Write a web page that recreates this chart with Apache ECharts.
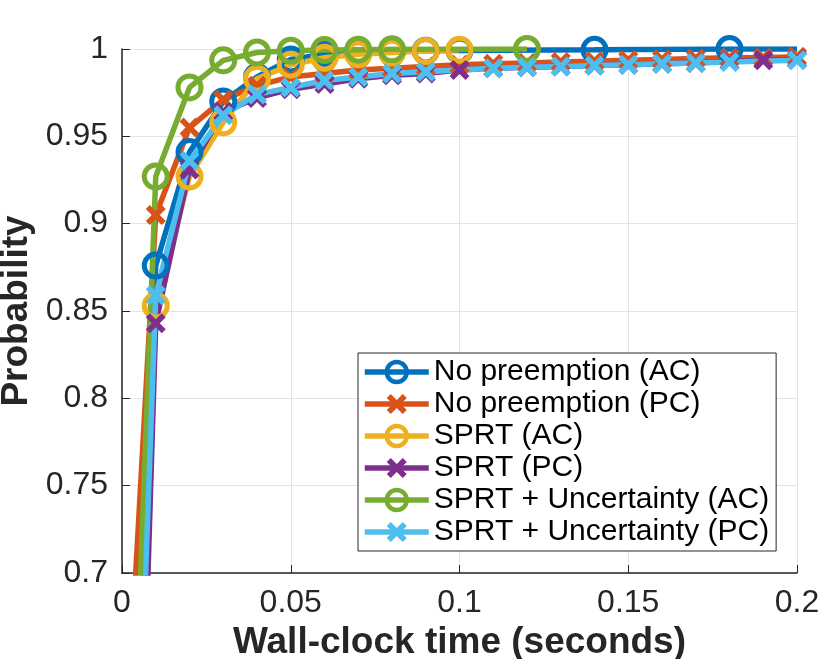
<!DOCTYPE html>
<html>
<head>
<meta charset="utf-8">
<script src="https://cdn.jsdelivr.net/npm/echarts@6/dist/echarts.min.js"></script>
<style>
  html, body { margin: 0; padding: 0; background: #fff; }
  #main { width: 830px; height: 659px; }
</style>
</head>
<body>
<div id="main"></div>
<script>
// values
var seriesNames = [
  "No preemption (AC)",
  "No preemption (PC)",
  "SPRT (AC)",
  "SPRT (PC)",
  "SPRT + Uncertainty (AC)",
  "SPRT + Uncertainty (PC)"
];

var noPreAcX = [0, 0.01, 0.02, 0.03, 0.04, 0.05, 0.06, 0.07, 0.08, 0.09, 0.1, 0.14, 0.18, 0.2];
var noPreAcY = [0.35, 0.876, 0.941, 0.970, 0.984, 0.994, 0.997, 0.998, 0.9985, 0.999, 0.9992, 0.9995, 1.0, 1.0];

var noPrePcX = [0, 0.01, 0.02, 0.03, 0.04, 0.05, 0.06, 0.07, 0.08, 0.09, 0.1, 0.11, 0.12, 0.13, 0.14, 0.15, 0.16, 0.17, 0.18, 0.19, 0.2];
var noPrePcY = [0.56, 0.905, 0.955, 0.971, 0.979, 0.984, 0.986, 0.988, 0.989, 0.990, 0.991, 0.9915, 0.992, 0.9925, 0.993, 0.9935, 0.994, 0.9945, 0.995, 0.995, 0.9955];

var sprtAcX = [0, 0.01, 0.02, 0.03, 0.04, 0.05, 0.06, 0.07, 0.08, 0.09, 0.1];
var sprtAcY = [0.25, 0.853, 0.927, 0.958, 0.983, 0.991, 0.995, 0.997, 0.998, 0.9988, 0.9995];

var sprtPcX = [0, 0.01, 0.02, 0.03, 0.04, 0.05, 0.06, 0.07, 0.08, 0.09, 0.1, 0.11, 0.12, 0.13, 0.14, 0.15, 0.16, 0.17, 0.18, 0.19, 0.2];
var sprtPcY = [0.22, 0.843, 0.931, 0.964, 0.972, 0.977, 0.980, 0.983, 0.985, 0.986, 0.988, 0.989, 0.9895, 0.990, 0.9905, 0.991, 0.9915, 0.992, 0.993, 0.9935, 0.994];

var uncAcX = [0, 0.01, 0.02, 0.03, 0.04, 0.05, 0.06, 0.07, 0.08, 0.12];
var uncAcY = [0.42, 0.927, 0.978, 0.9935, 0.998, 0.999, 0.9994, 0.9996, 0.9998, 1.0];

var uncPcX = [0, 0.01, 0.02, 0.03, 0.04, 0.05, 0.06, 0.07, 0.08, 0.09, 0.11, 0.12, 0.13, 0.14, 0.15, 0.16, 0.17, 0.18, 0.2];
var uncPcY = [0.33, 0.859, 0.936, 0.962, 0.974, 0.978, 0.982, 0.984, 0.986, 0.987, 0.989, 0.9895, 0.990, 0.9905, 0.991, 0.9915, 0.992, 0.9925, 0.9935];

var xTicks = [0, 0.05, 0.1, 0.15, 0.2];
var yTicks = [0.7, 0.75, 0.8, 0.85, 0.9, 0.95, 1];

// MATLAB default line colours
var colors = ["#0072BD", "#D95319", "#EDB120", "#7E2F8E", "#77AC30", "#4DBEEE"];
var circleSeries = [true, false, true, false, true, false];

var xMark = "path://M0,4L4,0L10,6L16,0L20,4L14,10L20,16L16,20L10,14L4,20L0,16L6,10Z";
var font = "Liberation Sans";
var ink = "#262626";
var lineW = 5.5;

function pairs(xs, ys, lastBare) {
  return xs.map(function (x, i) {
    if (lastBare && i === xs.length - 1) {
      return { value: [x, ys[i]], symbol: "none" };
    }
    return [x, ys[i]];
  });
}

function makeSeries(i, xs, ys, lastBare) {
  var c = colors[i];
  var isCircle = circleSeries[i];
  return {
    name: seriesNames[i],
    type: "line",
    data: pairs(xs, ys, lastBare),
    symbol: isCircle ? "circle" : xMark,
    symbolSize: isCircle ? 23 : 20,
    showAllSymbol: true,
    clip: true,
    lineStyle: { color: c, width: lineW },
    itemStyle: isCircle
      ? { color: "rgba(255,255,255,0)", borderColor: c, borderWidth: 5 }
      : { color: c, borderWidth: 0 },
    emphasis: { disabled: true },
    animation: false
  };
}

var legendData = seriesNames.map(function (n, i) {
  return circleSeries[i]
    ? { name: n, itemStyle: { color: "rgba(255,255,255,0)", borderColor: colors[i], borderWidth: 4.5 } }
    : { name: n, itemStyle: { color: colors[i], borderWidth: 0 } };
});

var chartDom = document.getElementById("main");
var myChart = echarts.init(chartDom);

var option = {
  backgroundColor: "#fff",
  animation: false,
  grid: { left: 122, top: 49, width: 675, height: 524, containLabel: false, outerBoundsMode: "none" },
  legend: {
    data: legendData,
    orient: "vertical",
    left: 358,
    top: 353,
    padding: [3, 7, 3, 4],
    itemGap: 0,
    itemWidth: 64,
    itemHeight: 25,
    backgroundColor: "#fff",
    borderColor: ink,
    borderWidth: 1,
    borderRadius: 0,
    lineStyle: { width: lineW },
    textStyle: { fontFamily: font, fontSize: 30, color: "#000", lineHeight: 32 }
  },
  xAxis: {
    type: "value",
    min: xTicks[0],
    max: xTicks[xTicks.length - 1],
    interval: 0.05,
    name: "Wall-clock time (seconds)",
    nameLocation: "middle",
    nameGap: 36,
    nameTextStyle: { fontFamily: font, fontSize: 37, fontWeight: "bold", color: ink },
    axisLine: { lineStyle: { color: ink, width: 1.5 } },
    axisTick: { inside: true, length: 8, lineStyle: { color: ink } },
    axisLabel: { fontFamily: font, fontSize: 32, color: ink, margin: 14 },
    splitLine: { show: true, lineStyle: { color: "#e3e3e3", width: 1 } }
  },
  yAxis: {
    type: "value",
    min: yTicks[0],
    max: yTicks[yTicks.length - 1],
    interval: 0.05,
    name: "Probability",
    nameLocation: "middle",
    nameGap: 85,
    nameTextStyle: { fontFamily: font, fontSize: 37, fontWeight: "bold", color: ink },
    axisLine: { show: true, lineStyle: { color: ink, width: 1.5 } },
    axisTick: { show: true, inside: true, length: 8, lineStyle: { color: ink } },
    axisLabel: { fontFamily: font, fontSize: 32, color: ink, margin: 14 },
    splitLine: { show: true, lineStyle: { color: "#e3e3e3", width: 1 } }
  },
  series: [
    makeSeries(0, noPreAcX, noPreAcY, true),
    makeSeries(1, noPrePcX, noPrePcY, false),
    makeSeries(2, sprtAcX, sprtAcY, false),
    makeSeries(3, sprtPcX, sprtPcY, false),
    makeSeries(4, uncAcX, uncAcY, false),
    makeSeries(5, uncPcX, uncPcY, false)
  ]
};

option && myChart.setOption(option);
</script>
</body>
</html>
